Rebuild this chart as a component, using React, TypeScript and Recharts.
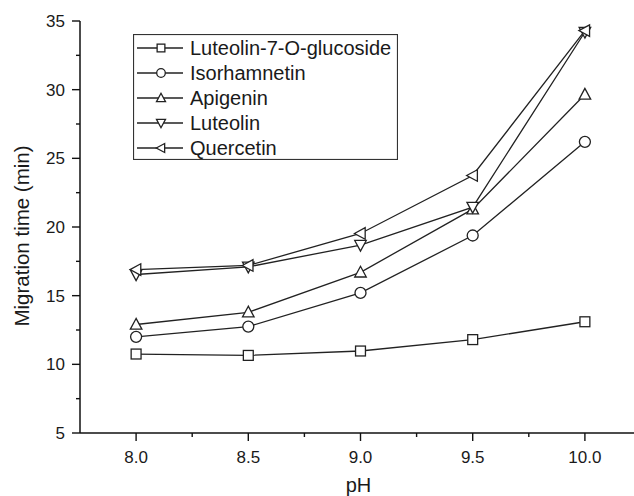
import React from 'react';
import { LineChart, Line, XAxis, YAxis, Legend } from 'recharts';

// pH values on the x axis
const PH = [8.0, 8.5, 9.0, 9.5, 10.0];

// migration times (min)
const LUTEOLIN_7_O_GLUCOSIDE = [10.75, 10.65, 10.97, 11.8, 13.1];
const ISORHAMNETIN = [12.0, 12.75, 15.2, 19.38, 26.2];
const APIGENIN = [12.9, 13.79, 16.7, 21.3, 29.65];
const LUTEOLIN = [16.54, 17.1, 18.68, 21.45, 34.2];
const QUERCETIN = [16.9, 17.2, 19.53, 23.75, 34.3];

const X_TICKS = [8.0, 8.25, 8.5, 8.75, 9.0, 9.25, 9.5, 9.75, 10.0];
const X_MAJOR = [8.0, 8.5, 9.0, 9.5, 10.0];
const Y_TICKS = [5, 7.5, 10, 12.5, 15, 17.5, 20, 22.5, 25, 27.5, 30, 32.5, 35];
const Y_MAJOR = [5, 10, 15, 20, 25, 30, 35];

type Shape = 'square' | 'circle' | 'up' | 'down' | 'left';

const SERIES: { key: string; name: string; shape: Shape; values: number[] }[] = [
  { key: 'l7g', name: 'Luteolin-7-O-glucoside', shape: 'square', values: LUTEOLIN_7_O_GLUCOSIDE },
  { key: 'iso', name: 'Isorhamnetin', shape: 'circle', values: ISORHAMNETIN },
  { key: 'api', name: 'Apigenin', shape: 'up', values: APIGENIN },
  { key: 'lut', name: 'Luteolin', shape: 'down', values: LUTEOLIN },
  { key: 'que', name: 'Quercetin', shape: 'left', values: QUERCETIN },
];

const rows = PH.map((ph, i) => {
  const row: Record<string, number> = { ph };
  SERIES.forEach(s => { row[s.key] = s.values[i]; });
  return row;
});

const FONT = '"Liberation Sans", Arial, sans-serif';
const INK = '#1a1a1a';
const LINE = '#222';

const Marker = ({ shape, cx, cy, r = 5.5 }: { shape: Shape; cx: number; cy: number; r?: number }) => {
  const common = { fill: '#fff', stroke: LINE, strokeWidth: 1.3 };
  if (shape === 'square') {
    const h = r * 0.9;
    return <rect x={cx - h} y={cy - h} width={h * 2} height={h * 2} {...common} />;
  }
  if (shape === 'circle') return <circle cx={cx} cy={cy} r={r} {...common} />;
  let pts = '';
  if (shape === 'up') pts = `${cx},${cy - r * 1.1} ${cx - r * 1.05},${cy + r * 0.85} ${cx + r * 1.05},${cy + r * 0.85}`;
  if (shape === 'down') pts = `${cx},${cy + r * 1.1} ${cx - r * 1.05},${cy - r * 0.85} ${cx + r * 1.05},${cy - r * 0.85}`;
  if (shape === 'left') pts = `${cx - r * 1.1},${cy} ${cx + r * 0.85},${cy - r * 1.05} ${cx + r * 0.85},${cy + r * 1.05}`;
  return <polygon points={pts} {...common} />;
};

const XTick = (props: any) => {
  const { x, y, payload } = props;
  const major = X_MAJOR.includes(payload.value);
  return (
    <g>
      <line x1={x} x2={x} y1={y} y2={y + (major ? 8 : 4)} stroke="#111" strokeWidth={1.4} />
      {major && (
        <text x={x} y={y + 30} textAnchor="middle" fontSize={17} fontFamily={FONT} fill={INK}>
          {payload.value.toFixed(1)}
        </text>
      )}
    </g>
  );
};

const YTick = (props: any) => {
  const { x, y, payload } = props;
  const major = Y_MAJOR.includes(payload.value);
  return (
    <g>
      <line x1={x} x2={x - (major ? 8 : 4)} y1={y} y2={y} stroke="#111" strokeWidth={1.4} />
      {major && (
        <text x={x - 15} y={y + 6} textAnchor="end" fontSize={17} fontFamily={FONT} fill={INK}>
          {payload.value}
        </text>
      )}
    </g>
  );
};

const renderLegend = (props: any) => {
  const order = (k: string) => SERIES.findIndex(d => d.key === k);
  const items = [...(props.payload || [])].sort((a: any, b: any) => order(a.dataKey) - order(b.dataKey));
  return (
    <svg width={265} height={126} style={{ display: 'block' }}>
      <rect x={0.5} y={0.5} width={264} height={125} fill="#fff" stroke="#333" strokeWidth={1.2} />
      {items.map((entry: any, i: number) => {
        const s = SERIES.find(d => d.key === entry.dataKey);
        const cy = 14 + i * 25;
        return (
          <g key={entry.value}>
            <line x1={4} x2={50} y1={cy} y2={cy} stroke={LINE} strokeWidth={1.3} />
            <Marker shape={s ? s.shape : 'square'} cx={28} cy={cy} r={4.3} />
            <text x={57} y={cy + 7} fontSize={20} fontFamily={FONT} fill={INK}>
              {entry.value}
            </text>
          </g>
        );
      })}
    </svg>
  );
};

export default function App() {
  return (
    <div style={{ position: 'absolute', left: 0, top: 0, width: 634, height: 496, overflow: 'hidden', background: '#fff' }}>
      <LineChart width={660} height={496} data={rows} margin={{ top: 21, right: 19, left: 20, bottom: 13 }}>
        <XAxis
          dataKey="ph"
          type="number"
          domain={[7.75, 10.25]}
          ticks={X_TICKS}
          interval={0}
          tickSize={0}
          tickMargin={0}
          tickLine={false}
          tick={<XTick />}
          height={50}
          axisLine={{ stroke: '#111', strokeWidth: 1.5 }}
          label={{
            content: ({ viewBox }: any) => (
              <text x={viewBox.x + viewBox.width / 2 - 2} y={viewBox.y + 59} textAnchor="middle" fontSize={20} fontFamily={FONT} fill={INK}>
                pH
              </text>
            ),
          }}
        />
        <YAxis
          type="number"
          domain={[5, 35]}
          ticks={Y_TICKS}
          interval={0}
          tickSize={0}
          tickMargin={0}
          tickLine={false}
          tick={<YTick />}
          width={60}
          axisLine={{ stroke: '#111', strokeWidth: 1.5 }}
          label={{
            content: ({ viewBox }: any) => {
              const cx = viewBox.x + 1;
              const cy = viewBox.y + viewBox.height / 2 + 9;
              return (
                <text transform={`translate(${cx},${cy}) rotate(-90)`} textAnchor="middle" dominantBaseline="central" fontSize={20.5} fontFamily={FONT} fill={INK}>
                  Migration time (min)
                </text>
              );
            },
          }}
        />
        <Legend
          layout="vertical"
          align="center"
          verticalAlign="middle"
          itemSorter={null}
          content={renderLegend}
          wrapperStyle={{ position: 'absolute', left: 133, top: 34, width: 265, height: 126 }}
        />
        {SERIES.map(s => (
          <Line
            key={s.key}
            dataKey={s.key}
            name={s.name}
            stroke={LINE}
            strokeWidth={1.3}
            isAnimationActive={false}
            activeDot={false}
            dot={(p: any) => <Marker key={`${s.key}-${p.index}`} shape={s.shape} cx={p.cx} cy={p.cy} />}
          />
        ))}
      </LineChart>
    </div>
  );
}
